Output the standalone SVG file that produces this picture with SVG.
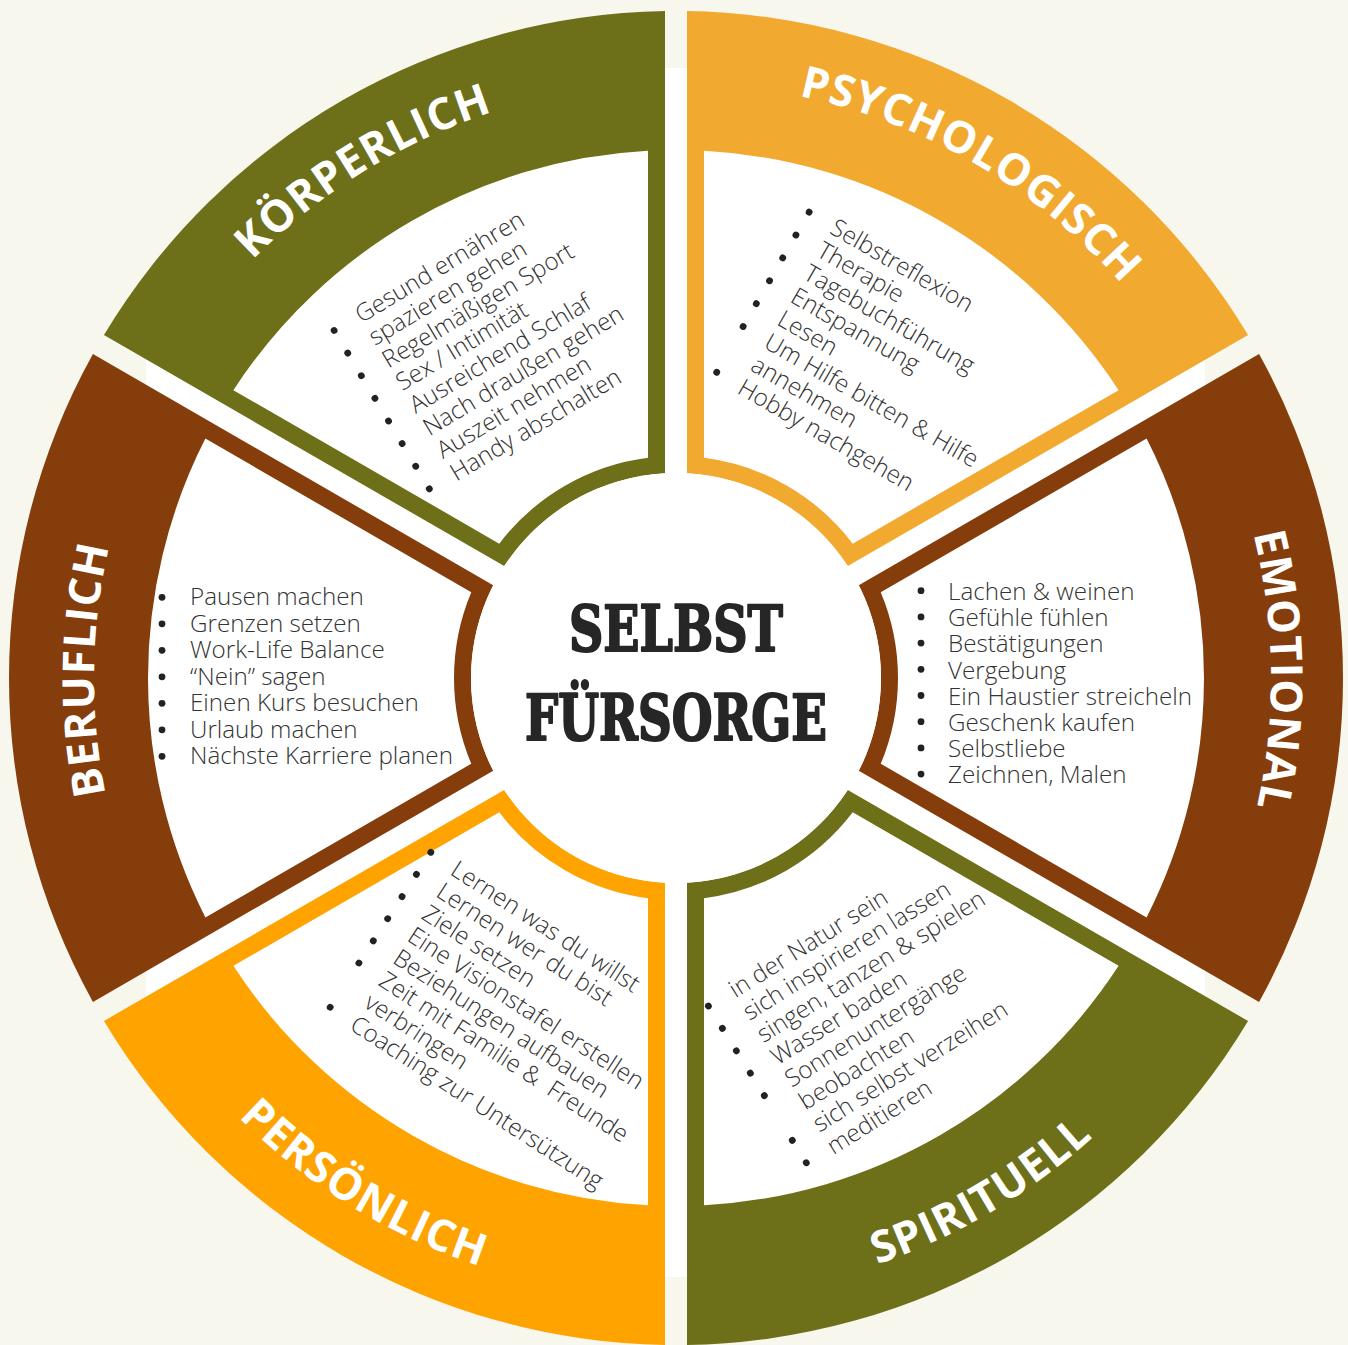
<svg xmlns="http://www.w3.org/2000/svg" width="1348" height="1345" viewBox="0 0 1348 1345">
  <style>
    .list{font-family:"Open Sans","Noto Sans",sans-serif;font-weight:300;font-size:24.2px;fill:#333333}
    .dot{fill:#222222}
    .label{font-family:"Open Sans","Noto Sans",sans-serif;font-weight:700;font-size:44px;fill:#ffffff;letter-spacing:1px}
    .title{font-family:"DejaVu Serif","Liberation Serif",serif;font-weight:700;font-size:64px;fill:#262626;stroke:#262626;stroke-width:2.2px;stroke-linejoin:round}
    .inner{fill:#ffffff}
    .olive{fill:#6d7019}
    .gold{fill:#f2a930}
    .brown{fill:#853d0c}
    .orange{fill:#ffa301}
  </style>
  <defs>
    <!-- one 60° wheel segment, centred on the +x axis, origin at the wheel centre -->
    <path id="seg" d="M583.06,-323.93 A667,667 0 0 1 583.06,323.93 L182.78,92.83 A205,205 0 0 0 182.78,-92.83 Z"/>
    <!-- white panel inside a segment -->
    <path id="segInner" d="M470.61,-239.38 A528,528 0 0 1 470.61,239.38 L204.72,85.86 A222,222 0 0 0 204.72,-85.86 Z"/>
    <clipPath id="wheelClip"><circle cx="676" cy="678" r="667"/></clipPath>
    <!-- label baselines (clockwise arcs read with tops outward, the lower two read with tops inward) -->
    <path id="arcK" d="M101.28,524.00 A595,595 0 0 1 829.99,103.28"/>
    <path id="arcP" d="M522.01,103.28 A595,595 0 0 1 1250.72,524.00"/>
    <path id="arcE" d="M1096.73,257.27 A595,595 0 0 1 1096.73,1098.73"/>
    <path id="arcB" d="M264.47,1089.53 A582,582 0 0 1 264.47,266.47"/>
    <path id="arcS" d="M515.53,1276.88 A620,620 0 0 0 1274.88,838.47"/>
    <path id="arcPe" d="M77.12,838.47 A620,620 0 0 0 836.47,1276.88"/>
  </defs>

  <!-- page -->
  <rect x="0" y="0" width="1348" height="1345" fill="#f8f7ed"/>
  <rect x="146" y="68" width="1059" height="1209" fill="#ffffff" clip-path="url(#wheelClip)"/>

  <g id="connectors"></g>

  <!-- KÖRPERLICH -->
  <g id="node-koerperlich">
    <use href="#seg" class="olive" transform="translate(676 678) rotate(-120)"/>
    <use href="#segInner" class="inner" transform="translate(676 678) rotate(-120)"/>
    <text class="label"><textPath href="#arcK" startOffset="48.2%" text-anchor="middle">KÖRPERLICH</textPath></text>
    <g transform="translate(361.4 323.4) rotate(-31)">
      <g class="dot">
        <circle cx="-27" cy="-8" r="3.4"/>
        <circle cx="-27" cy="18.4" r="3.4"/>
        <circle cx="-27" cy="44.8" r="3.4"/>
        <circle cx="-27" cy="71.2" r="3.4"/>
        <circle cx="-27" cy="97.6" r="3.4"/>
        <circle cx="-27" cy="124" r="3.4"/>
        <circle cx="-27" cy="150.4" r="3.4"/>
        <circle cx="-27" cy="176.8" r="3.4"/>
      </g>
      <text class="list">
        <tspan x="0" y="0">Gesund ernähren</tspan>
        <tspan x="0" y="26.4">spazieren gehen</tspan>
        <tspan x="0" y="52.8">Regelmäßigen Sport</tspan>
        <tspan x="0" y="79.2">Sex / Intimität</tspan>
        <tspan x="0" y="105.6">Ausreichend Schlaf</tspan>
        <tspan x="0" y="132">Nach draußen gehen</tspan>
        <tspan x="0" y="158.4">Auszeit nehmen</tspan>
        <tspan x="0" y="184.8">Handy abschalten</tspan>
      </text>
    </g>
  </g>

  <!-- PSYCHOLOGISCH -->
  <g id="node-psychologisch">
    <use href="#seg" class="gold" transform="translate(676 678) rotate(-60)"/>
    <use href="#segInner" class="inner" transform="translate(676 678) rotate(-60)"/>
    <text class="label"><textPath href="#arcP" startOffset="50.3%" text-anchor="middle">PSYCHOLOGISCH</textPath></text>
    <g transform="translate(828.5 232.6) rotate(30)">
      <g class="dot">
        <circle cx="-27" cy="-8" r="3.4"/>
        <circle cx="-27" cy="18.4" r="3.4"/>
        <circle cx="-27" cy="44.8" r="3.4"/>
        <circle cx="-27" cy="71.2" r="3.4"/>
        <circle cx="-27" cy="97.6" r="3.4"/>
        <circle cx="-27" cy="124" r="3.4"/>
        <circle cx="-27" cy="176.8" r="3.4"/>
      </g>
      <text class="list">
        <tspan x="0" y="0">Selbstreflexion</tspan>
        <tspan x="0" y="26.4">Therapie</tspan>
        <tspan x="0" y="52.8">Tagebuchführung</tspan>
        <tspan x="0" y="79.2">Entspannung</tspan>
        <tspan x="0" y="105.6">Lesen</tspan>
        <tspan x="0" y="132">Um Hilfe bitten &amp; Hilfe</tspan>
        <tspan x="0" y="158.4">annehmen</tspan>
        <tspan x="0" y="184.8">Hobby nachgehen</tspan>
      </text>
    </g>
  </g>

  <!-- EMOTIONAL -->
  <g id="node-emotional">
    <use href="#seg" class="brown" transform="translate(676 678)"/>
    <use href="#segInner" class="inner" transform="translate(676 678)"/>
    <text class="label"><textPath href="#arcE" startOffset="49.2%" text-anchor="middle">EMOTIONAL</textPath></text>
    <g class="dot">
      <circle cx="921" cy="590.7" r="3.4"/>
      <circle cx="921" cy="616.9" r="3.4"/>
      <circle cx="921" cy="643.1" r="3.4"/>
      <circle cx="921" cy="669.3" r="3.4"/>
      <circle cx="921" cy="695.5" r="3.4"/>
      <circle cx="921" cy="721.7" r="3.4"/>
      <circle cx="921" cy="747.9" r="3.4"/>
      <circle cx="921" cy="774.1" r="3.4"/>
    </g>
    <text class="list">
      <tspan x="948" y="600">Lachen &amp; weinen</tspan>
      <tspan x="948" y="626.2">Gefühle fühlen</tspan>
      <tspan x="948" y="652.4">Bestätigungen</tspan>
      <tspan x="948" y="678.6">Vergebung</tspan>
      <tspan x="948" y="704.8">Ein Haustier streicheln</tspan>
      <tspan x="948" y="731">Geschenk kaufen</tspan>
      <tspan x="948" y="757.2">Selbstliebe</tspan>
      <tspan x="948" y="783.4">Zeichnen, Malen</tspan>
    </text>
  </g>

  <!-- SPIRITUELL -->
  <g id="node-spirituell">
    <use href="#seg" class="olive" transform="translate(676 678) rotate(60)"/>
    <use href="#segInner" class="inner" transform="translate(676 678) rotate(60)"/>
    <text class="label"><textPath href="#arcS" startOffset="50.7%" text-anchor="middle">SPIRITUELL</textPath></text>
    <g transform="translate(735.5 998.5) rotate(-32)">
      <g class="dot">
        <circle cx="-27" cy="-8" r="3.4"/>
        <circle cx="-27" cy="18.4" r="3.4"/>
        <circle cx="-27" cy="44.8" r="3.4"/>
        <circle cx="-27" cy="71.2" r="3.4"/>
        <circle cx="-27" cy="97.6" r="3.4"/>
        <circle cx="-27" cy="150.4" r="3.4"/>
        <circle cx="-27" cy="176.8" r="3.4"/>
      </g>
      <text class="list">
        <tspan x="0" y="0">in der Natur sein</tspan>
        <tspan x="0" y="26.4">sich inspirieren lassen</tspan>
        <tspan x="0" y="52.8">singen, tanzen &amp; spielen</tspan>
        <tspan x="0" y="79.2">Wasser baden</tspan>
        <tspan x="0" y="105.6">Sonnenuntergänge</tspan>
        <tspan x="0" y="132">beobachten</tspan>
        <tspan x="0" y="158.4">sich selbst verzeihen</tspan>
        <tspan x="0" y="184.8">meditieren</tspan>
      </text>
    </g>
  </g>

  <!-- PERSÖNLICH -->
  <g id="node-persoenlich">
    <use href="#seg" class="orange" transform="translate(676 678) rotate(120)"/>
    <use href="#segInner" class="inner" transform="translate(676 678) rotate(120)"/>
    <text class="label"><textPath href="#arcPe" startOffset="48.2%" text-anchor="middle">PERSÖNLICH</textPath></text>
    <g transform="translate(449.1 873.7) rotate(33)">
      <g class="dot">
        <circle cx="-27" cy="-8" r="3.4"/>
        <circle cx="-27" cy="18.4" r="3.4"/>
        <circle cx="-27" cy="44.8" r="3.4"/>
        <circle cx="-27" cy="71.2" r="3.4"/>
        <circle cx="-27" cy="97.6" r="3.4"/>
        <circle cx="-27" cy="124" r="3.4"/>
        <circle cx="-27" cy="176.8" r="3.4"/>
      </g>
      <text class="list">
        <tspan x="0" y="0">Lernen was du willst</tspan>
        <tspan x="0" y="26.4">Lernen wer du bist</tspan>
        <tspan x="0" y="52.8">Ziele setzen</tspan>
        <tspan x="0" y="79.2">Eine Visionstafel erstellen</tspan>
        <tspan x="0" y="105.6">Beziehungen aufbauen</tspan>
        <tspan x="0" y="132">Zeit mit Familie &amp;&#160; Freunde</tspan>
        <tspan x="0" y="158.4">verbringen</tspan>
        <tspan x="0" y="184.8">Coaching zur Untersützung</tspan>
      </text>
    </g>
  </g>

  <!-- BERUFLICH -->
  <g id="node-beruflich">
    <use href="#seg" class="brown" transform="translate(676 678) rotate(180)"/>
    <use href="#segInner" class="inner" transform="translate(676 678) rotate(180)"/>
    <text class="label"><textPath href="#arcB" startOffset="50.9%" text-anchor="middle">BERUFLICH</textPath></text>
    <g class="dot">
      <circle cx="162" cy="597.3" r="3.4"/>
      <circle cx="162" cy="623.8" r="3.4"/>
      <circle cx="162" cy="650.3" r="3.4"/>
      <circle cx="162" cy="676.8" r="3.4"/>
      <circle cx="162" cy="703.3" r="3.4"/>
      <circle cx="162" cy="729.8" r="3.4"/>
      <circle cx="162" cy="756.3" r="3.4"/>
    </g>
    <text class="list">
      <tspan x="190" y="605">Pausen machen</tspan>
      <tspan x="190" y="631.5">Grenzen setzen</tspan>
      <tspan x="190" y="658">Work-Life Balance</tspan>
      <tspan x="190" y="684.5">“Nein” sagen</tspan>
      <tspan x="190" y="711">Einen Kurs besuchen</tspan>
      <tspan x="190" y="737.5">Urlaub machen</tspan>
      <tspan x="190" y="764">Nächste Karriere planen</tspan>
    </text>
  </g>

  <!-- centre -->
  <g id="node-center">
    <circle cx="676" cy="678" r="205" fill="#ffffff"/>
    <text class="title" x="676" y="651" text-anchor="middle" textLength="214" lengthAdjust="spacingAndGlyphs">SELBST</text>
    <text class="title" x="676" y="740" text-anchor="middle" textLength="302" lengthAdjust="spacingAndGlyphs">FÜRSORGE</text>
  </g>
</svg>
